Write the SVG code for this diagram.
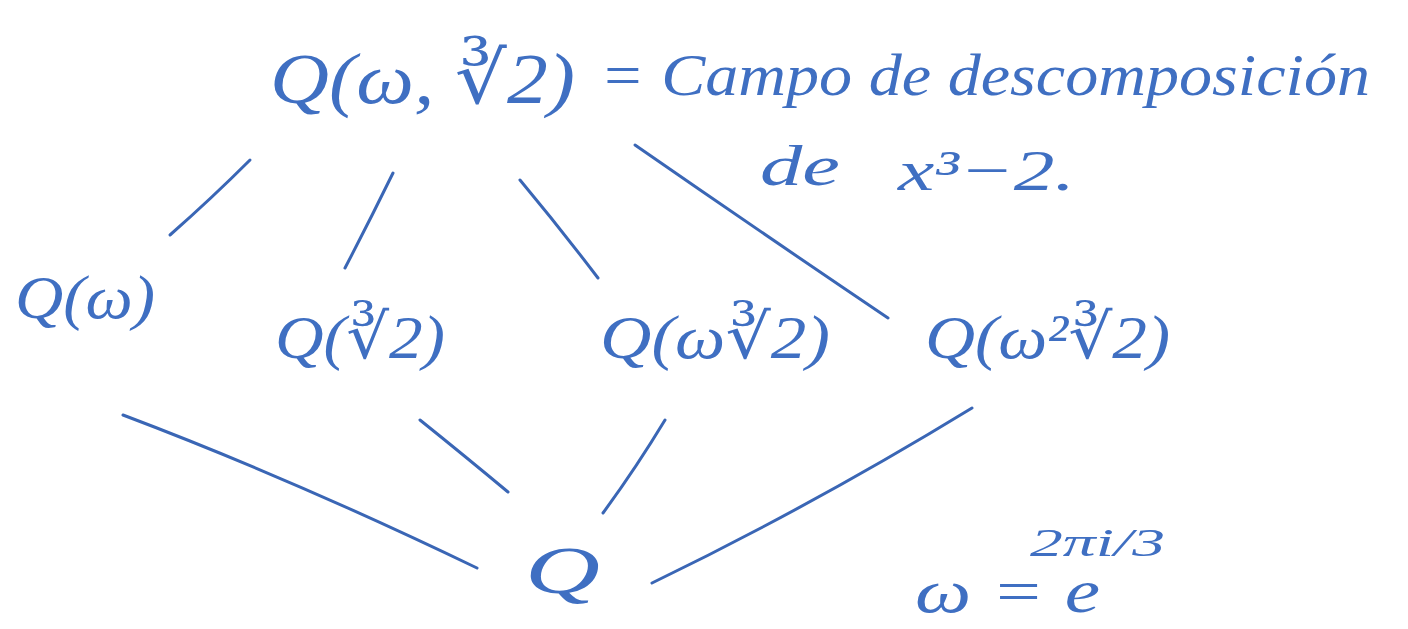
<svg xmlns="http://www.w3.org/2000/svg" width="1408" height="629" viewBox="0 0 1408 629">
<style>
.t{font-family:"Liberation Serif","DejaVu Serif",serif;font-style:italic;fill:#3f6fc2}
.c path{stroke:#3a66b5;stroke-width:3;stroke-linecap:round;fill:none}
</style>
<rect width="1408" height="629" fill="#ffffff"/>
<g id="connectors" class="c">
<path d="M250 160 Q212 198 170 235"/>
<path d="M393 173 Q370 220 345 268"/>
<path d="M520 180 Q560 228 598 278"/>
<path d="M635 145 Q762 233 888 318"/>
<path d="M123 415 Q290 478 477 568"/>
<path d="M420 420 Q466 457 508 492"/>
<path d="M665 420 Q636 468 603 513"/>
<path d="M972 408 Q815 504 652 583"/>
</g>
<g id="top"><text class="t" x="270" y="103" font-size="72" textLength="305" lengthAdjust="spacingAndGlyphs">Q(ω, ∛2)</text></g>
<g id="label"><text class="t" x="600" y="95" font-size="60" textLength="770" lengthAdjust="spacingAndGlyphs">= Campo de descomposición</text>
<text class="t" x="760" y="185" font-size="58" textLength="80" lengthAdjust="spacingAndGlyphs">de</text>
<text class="t" x="898" y="190" font-size="58" textLength="177" lengthAdjust="spacingAndGlyphs">x³−2.</text></g>
<g id="qw"><text class="t" x="15" y="318" font-size="62" textLength="140" lengthAdjust="spacingAndGlyphs">Q(ω)</text></g>
<g id="qr"><text class="t" x="275" y="358" font-size="62" textLength="170" lengthAdjust="spacingAndGlyphs">Q(∛2)</text></g>
<g id="qwr"><text class="t" x="600" y="358" font-size="62" textLength="230" lengthAdjust="spacingAndGlyphs">Q(ω∛2)</text></g>
<g id="qw2r"><text class="t" x="925" y="358" font-size="62" textLength="245" lengthAdjust="spacingAndGlyphs">Q(ω²∛2)</text></g>
<g id="q"><text class="t" x="525" y="593" font-size="68" textLength="75" lengthAdjust="spacingAndGlyphs">Q</text></g>
<g id="omega"><text class="t" x="915" y="612" font-size="62" textLength="185" lengthAdjust="spacingAndGlyphs">ω = e</text>
<text class="t" x="1030" y="556" font-size="40" textLength="135" lengthAdjust="spacingAndGlyphs">2πi/3</text></g>
</svg>
